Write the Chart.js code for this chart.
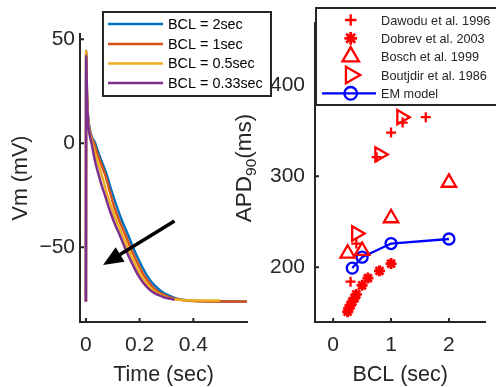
<!DOCTYPE html>
<html>
<head>
<meta charset="utf-8">
<script src="https://cdn.jsdelivr.net/npm/chart.js@4.4.1/dist/chart.umd.min.js"></script>
<style>
  html, body { margin: 0; padding: 0; background: #fff; }
  #wrap { position: relative; width: 496px; height: 387px; overflow: hidden; }
  #apd { position: absolute; left: 225px; top: 0; }
  #ap { position: absolute; left: 0; top: 0; z-index: 2; }
</style>
</head>
<body>
<div id="wrap">
  <canvas id="apd" width="271" height="387"></canvas>
  <canvas id="ap" width="290" height="387"></canvas>
</div>
<script>
// --- action potential traces (time in s, Vm in mV) ---
const bclLabels = ['BCL = 2sec', 'BCL = 1sec', 'BCL = 0.5sec', 'BCL = 0.33sec'];
const apColors = ['#0072BD', '#D95319', '#EDB120', '#7E2F8E'];

const tBcl2 = [0, 0.001, 0.004, 0.008, 0.014, 0.022, 0.033, 0.045, 0.058, 0.077, 0.098, 0.114, 0.126, 0.141, 0.157, 0.172, 0.188, 0.206, 0.226, 0.245, 0.269, 0.29, 0.306, 0.33, 0.36, 0.4, 0.5, 0.6];
const vBcl2 = [-76, 44.5, 24, 13, 7, 3, 0.5, -4, -8.5, -15, -24, -30, -34.5, -39.3, -44.1, -48.9, -53.7, -58.5, -63.3, -66.8, -69.9, -72, -73, -74.3, -75.2, -75.7, -76, -76.1];

const tBcl1 = [0, 0.001, 0.004, 0.008, 0.014, 0.022, 0.03, 0.041, 0.054, 0.071, 0.091, 0.104, 0.116, 0.131, 0.147, 0.162, 0.178, 0.196, 0.215, 0.234, 0.253, 0.272, 0.29, 0.316, 0.345, 0.385, 0.45, 0.52, 0.6];
const vBcl1 = [-76, 44.5, 23.5, 12, 6, 2.5, 0, -4.5, -9, -15, -24, -30, -34.5, -39.3, -44.1, -48.9, -53.7, -58.5, -63.3, -66.8, -69.7, -71.6, -72.9, -74.2, -75.1, -75.7, -76, -76.1, -76.1];

const tBcl05 = [0, 0.001, 0.004, 0.008, 0.014, 0.021, 0.028, 0.038, 0.05, 0.064, 0.08, 0.093, 0.105, 0.12, 0.136, 0.151, 0.167, 0.185, 0.204, 0.222, 0.242, 0.26, 0.279, 0.302, 0.33, 0.37, 0.43, 0.5];
const vBcl05 = [-76, 44.5, 23, 11, 5, 1.5, -2, -6.5, -11.5, -17.5, -25, -30, -34.5, -39.3, -44.1, -48.9, -53.7, -58.5, -63.3, -66.8, -69.7, -71.6, -72.9, -74.2, -75, -75.4, -75.6, -75.6];

const tBcl033 = [0, 0.001, 0.004, 0.008, 0.014, 0.021, 0.033, 0.046, 0.058, 0.071, 0.083, 0.095, 0.11, 0.126, 0.141, 0.157, 0.175, 0.194, 0.212, 0.232, 0.25, 0.269, 0.29, 0.31, 0.33];
const vBcl033 = [-76, 42, 22, 10, 4, 0, -8, -14.5, -20, -25, -30, -34.5, -39.5, -44.1, -48.9, -53.7, -58.5, -63.3, -66.8, -69.7, -71.6, -72.9, -74, -74.6, -75.1];

const timeTicks = [0, 0.2, 0.4];
const vmTicks = [-50, 0, 50];
// arrow: [time, Vm] of tail and head
const arrowFrom = [0.33, -37.4];
const arrowTo = [0.064, -58.5];

// --- APD90 vs BCL ---
const dawoduBcl = [0.3, 0.4, 0.75, 1.0, 1.2, 1.6];
const dawoduApd = [184, 226, 321, 348, 359, 365];
const dobrevBcl = [0.25, 0.27, 0.3, 0.33, 0.37, 0.4, 0.5, 0.6, 0.8, 1.0];
const dobrevApd = [151, 155, 158, 162, 166, 170, 180, 188, 196, 204];
const boschBcl = [0.25, 0.5, 1.0, 2.0];
const boschApd = [215, 218, 254, 293];
const boutjdirBcl = [0.4, 0.8, 1.18];
const boutjdirApd = [237, 324, 365];
const modelBcl = [0.33, 0.5, 1, 2];
const modelApd = [199, 211, 226, 231];

const bclTicks = [0, 1, 2];
const apdTicks = [200, 300, 400];

const axisColor = '#262626';
const family = '"Liberation Sans", Arial, Helvetica, sans-serif';

const xy = (xs, ys) => xs.map((x, i) => ({ x: x, y: ys[i] }));
const fixTicks = values => scale => { scale.ticks = values.map(v => ({ value: v })); };
const minus = v => (v < 0 ? '\u2212' + Math.abs(v) : String(v));

// MATLAB style tick marks pointing into the axes
const inwardTicks = {
  id: 'inwardTicks',
  afterDatasetsDraw(chart) {
    const { ctx, chartArea: a, scales: { x, y } } = chart;
    ctx.save();
    ctx.strokeStyle = axisColor;
    ctx.lineWidth = 2;
    ctx.beginPath();
    x.ticks.forEach(t => {
      const px = x.getPixelForValue(t.value);
      ctx.moveTo(px, a.bottom);
      ctx.lineTo(px, a.bottom - 4);
    });
    y.ticks.forEach(t => {
      const py = y.getPixelForValue(t.value);
      ctx.moveTo(a.left, py);
      ctx.lineTo(a.left + 4, py);
    });
    ctx.stroke();
    ctx.restore();
  }
};

const arrowPlugin = {
  id: 'arrow',
  afterDatasetsDraw(chart) {
    const { ctx, scales: { x, y } } = chart;
    const x0 = x.getPixelForValue(arrowFrom[0]), y0 = y.getPixelForValue(arrowFrom[1]);
    const x1 = x.getPixelForValue(arrowTo[0]), y1 = y.getPixelForValue(arrowTo[1]);
    const ang = Math.atan2(y1 - y0, x1 - x0);
    const len = 20, half = 8.5;
    const bx = x1 - Math.cos(ang) * len, by = y1 - Math.sin(ang) * len;
    ctx.save();
    ctx.strokeStyle = '#000';
    ctx.fillStyle = '#000';
    ctx.lineWidth = 3.5;
    ctx.beginPath();
    ctx.moveTo(x0, y0);
    ctx.lineTo(bx + Math.cos(ang) * 2, by + Math.sin(ang) * 2);
    ctx.stroke();
    ctx.beginPath();
    ctx.moveTo(x1, y1);
    ctx.lineTo(bx - Math.sin(ang) * half, by + Math.cos(ang) * half);
    ctx.lineTo(bx + Math.sin(ang) * half, by - Math.cos(ang) * half);
    ctx.closePath();
    ctx.fill();
    ctx.restore();
  }
};

const apLegend = {
  id: 'apLegend',
  afterDraw(chart) {
    const ctx = chart.ctx;
    const rows = [24, 44, 63.5, 83];
    ctx.save();
    ctx.fillStyle = '#fff';
    ctx.fillRect(103, 12, 168, 84);
    ctx.strokeStyle = axisColor;
    ctx.lineWidth = 2;
    ctx.strokeRect(103, 12, 168, 84);
    ctx.font = '14.4px ' + family;
    ctx.textBaseline = 'middle';
    chart.data.datasets.forEach((ds, i) => {
      ctx.strokeStyle = ds.borderColor;
      ctx.lineWidth = ds.borderWidth;
      ctx.beginPath();
      ctx.moveTo(108, rows[i]);
      ctx.lineTo(163, rows[i]);
      ctx.stroke();
      ctx.fillStyle = '#000';
      ctx.fillText(ds.label, 168, rows[i] + 1);
    });
    ctx.restore();
  }
};

new Chart(document.getElementById('ap'), {
  type: 'line',
  data: {
    datasets: [[tBcl2, vBcl2], [tBcl1, vBcl1], [tBcl05, vBcl05], [tBcl033, vBcl033]].map((s, i) => ({
      label: bclLabels[i],
      data: xy(s[0], s[1]),
      borderColor: apColors[i],
      borderWidth: 2.5,
      pointRadius: 0,
      cubicInterpolationMode: 'monotone',
      order: 4 - i
    }))
  },
  options: {
    responsive: false,
    animation: false,
    devicePixelRatio: 1,
    layout: { padding: { top: 34, right: 43, left: 0, bottom: 0 } },
    plugins: { legend: { display: false }, tooltip: { enabled: false } },
    scales: {
      x: {
        type: 'linear', min: -0.022, max: 0.6,
        afterBuildTicks: fixTicks(timeTicks),
        afterFit: s => { s.height = 65; },
        grid: { display: false, drawTicks: false },
        border: { color: axisColor, width: 2 },
        ticks: { color: axisColor, font: { family: family, size: 21 }, padding: 11, maxRotation: 0, autoSkip: false, callback: v => minus(v) },
        title: { display: true, text: 'Time (sec)', color: axisColor, font: { family: family, size: 21.5, lineHeight: 1.1 }, padding: { top: 0, bottom: 0 } }
      },
      y: {
        type: 'linear', min: -85.9, max: 52.5,
        afterBuildTicks: fixTicks(vmTicks),
        afterFit: s => { s.width = 80; },
        grid: { display: false, drawTicks: false },
        border: { color: axisColor, width: 2 },
        ticks: { color: axisColor, font: { family: family, size: 21 }, padding: 5, autoSkip: false, callback: v => minus(v) },
        title: { display: true, text: 'Vm (mV)', color: axisColor, font: { family: family, size: 21.5, lineHeight: 1.1 }, padding: { top: 9, bottom: 0 } }
      }
    }
  },
  plugins: [inwardTicks, arrowPlugin, apLegend]
});

// --- right panel ---
const apdLabel = {
  id: 'apdLabel',
  afterDraw(chart) {
    const ctx = chart.ctx;
    const big = '22.5px ' + family, small = '15.5px ' + family;
    ctx.save();
    ctx.font = big;
    const wA = ctx.measureText('APD').width;
    const wM = ctx.measureText('(ms)').width;
    ctx.font = small;
    const wS = ctx.measureText('90').width;
    const total = wA + wS + wM;
    ctx.translate(26, 168 + total / 2);
    ctx.rotate(-Math.PI / 2);
    ctx.fillStyle = axisColor;
    ctx.textBaseline = 'alphabetic';
    ctx.font = big;
    ctx.fillText('APD', 0, 0);
    ctx.font = small;
    ctx.fillText('90', wA, 5);
    ctx.font = big;
    ctx.fillText('(ms)', wA + wS, 0);
    ctx.restore();
  }
};

const apdLegend = {
  id: 'apdLegend',
  afterDraw(chart) {
    const ctx = chart.ctx;
    const rows = [20, 38.3, 56.7, 75, 93.3];
    const mx = 125.7;
    ctx.save();
    ctx.fillStyle = '#fff';
    ctx.fillRect(91, 8, 200, 97);
    ctx.strokeStyle = axisColor;
    ctx.lineWidth = 2;
    ctx.strokeRect(91, 8, 200, 97);
    ctx.font = '12.7px ' + family;
    ctx.textBaseline = 'middle';
    chart.data.datasets.forEach((ds, i) => {
      const y = rows[i];
      if (ds.showLine) {
        ctx.strokeStyle = ds.borderColor;
        ctx.lineWidth = ds.borderWidth;
        ctx.beginPath();
        ctx.moveTo(97, y);
        ctx.lineTo(151, y);
        ctx.stroke();
      }
      ctx.strokeStyle = ds.pointBorderColor;
      ctx.fillStyle = 'rgba(0,0,0,0)';
      ctx.lineWidth = ds.pointBorderWidth;
      Chart.helpers.drawPoint(ctx, {
        pointStyle: ds.pointStyle,
        rotation: ds.pointRotation || 0,
        radius: ds.pointRadius * 1.15,
        borderWidth: ds.pointBorderWidth
      }, mx, y);
      ctx.fillStyle = axisColor;
      ctx.fillText(ds.label, 156, y + 1);
    });
    ctx.restore();
  }
};

const marker = (label, xs, ys, style, radius, extra) => Object.assign({
  label: label,
  data: xy(xs, ys),
  pointStyle: style,
  pointRadius: radius,
  pointBorderColor: '#FF0000',
  pointBackgroundColor: 'rgba(0,0,0,0)',
  pointBorderWidth: 2.3,
  showLine: false
}, extra || {});

new Chart(document.getElementById('apd'), {
  type: 'scatter',
  data: {
    datasets: [
      marker('Dawodu et al. 1996', dawoduBcl, dawoduApd, 'cross', 5),
      marker('Dobrev et al. 2003', dobrevBcl, dobrevApd, 'star', 5.5, { pointBorderWidth: 2.8 }),
      marker('Bosch et al. 1999', boschBcl, boschApd, 'triangle', 8.3),
      marker('Boutjdir et al. 1986', boutjdirBcl, boutjdirApd, 'triangle', 8.3, { pointRotation: 90 }),
      marker('EM model', modelBcl, modelApd, 'circle', 5.5, {
        showLine: true, borderColor: '#0000FF', borderWidth: 2.3, pointBorderColor: '#0000FF'
      })
    ]
  },
  options: {
    responsive: false,
    animation: false,
    devicePixelRatio: 1,
    layout: { padding: { top: 20, right: 0, left: 0, bottom: 0 } },
    plugins: { legend: { display: false }, tooltip: { enabled: false } },
    scales: {
      x: {
        type: 'linear', min: -0.314, max: 2.63,
        afterBuildTicks: fixTicks(bclTicks),
        afterFit: s => { s.height = 65; },
        grid: { display: false, drawTicks: false },
        border: { color: axisColor, width: 2 },
        ticks: { color: axisColor, font: { family: family, size: 21 }, padding: 11, maxRotation: 0, autoSkip: false },
        title: { display: true, text: 'BCL (sec)', color: axisColor, font: { family: family, size: 21.5, lineHeight: 1.1 }, padding: { top: 0, bottom: 0 } }
      },
      y: {
        type: 'linear', min: 139.7, max: 469,
        afterBuildTicks: fixTicks(apdTicks),
        afterFit: s => { s.width = 90; },
        grid: { display: false, drawTicks: false },
        border: { color: axisColor, width: 2 },
        ticks: { color: axisColor, font: { family: family, size: 21 }, padding: 10, autoSkip: false }
      }
    }
  },
  plugins: [inwardTicks, apdLabel, apdLegend]
});
</script>
</body>
</html>
